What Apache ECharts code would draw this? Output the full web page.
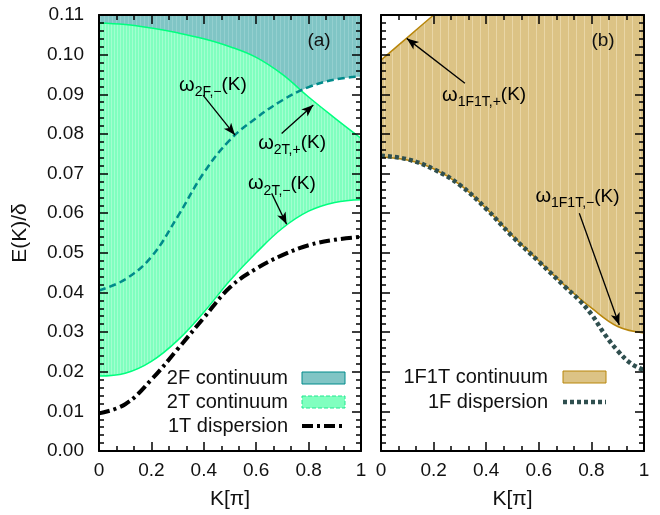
<!DOCTYPE html>
<html><head><meta charset="utf-8">
<script src="https://cdn.jsdelivr.net/npm/echarts@6/dist/echarts.min.js"></script>
<style>html,body{margin:0;padding:0;background:#fff}#c{width:660px;height:515px}</style>
</head><body><div id="c"></div>
<script>
// ---------- data ----------
const kGrid = [0, 0.1, 0.2, 0.3, 0.4, 0.5, 0.6, 0.7, 0.8, 0.9, 1.0];
// panel (a)
const w2TPlus  = [0.1080, 0.1076, 0.1067, 0.1055, 0.1040, 0.1020, 0.0993, 0.0950, 0.0893, 0.0840, 0.0789];
const w2TMinus = [0.0189, 0.0196, 0.0226, 0.0279, 0.0350, 0.0430, 0.0500, 0.0562, 0.0605, 0.0627, 0.0634];
const w2FMinus = [0.0405, 0.0433, 0.0490, 0.0591, 0.0702, 0.0785, 0.0840, 0.0885, 0.0918, 0.0937, 0.0945];
const disp1T   = [0.0095, 0.0118, 0.0180, 0.0257, 0.0336, 0.0413, 0.0460, 0.0494, 0.0519, 0.0533, 0.0540];
// panel (b)
const w1F1TPlus  = [0.0986, 0.1043, 0.1100, 0.1157, 0.1214, 0.1250, 0.1260, 0.1260, 0.1260, 0.1260, 0.1260];
const w1F1TMinus = [0.0742, 0.0734, 0.0712, 0.0672, 0.0612, 0.0543, 0.0480, 0.0417, 0.0361, 0.0314, 0.0298];
const k1F    = [0, 0.1, 0.2, 0.3, 0.4, 0.5, 0.6, 0.7, 0.75, 0.8, 0.85, 0.9, 0.95, 1.0];
const disp1F = [0.0745, 0.0736, 0.0711, 0.0671, 0.0611, 0.0541, 0.0478, 0.0414, 0.0383, 0.0345, 0.0295, 0.0253, 0.0221, 0.0204];
// axis ticks
const xTicks = { min: 0, max: 1, step: 0.2 };
const yTicks = { min: 0, max: 0.11, step: 0.01 };
// legend texts
const legendA = ['2F continuum', '2T continuum', '1T dispersion'];
const legendB = ['1F1T continuum', '1F dispersion'];

// ---------- styling ----------
const FONT = 'Liberation Sans';
const C = {
  tealLine: '#008b8b', tealFill: '#80c5c5', tealStripe: '#94cfcf',
  greenLine: '#00ff7f', greenFill: '#80ffbf', greenStripe: '#a2ffd0',
  goldLine: '#b8860b', goldFill: '#dcc385', goldStripe: '#e9d6a6',
  slate: '#2f4f4f', black: '#000'
};
function stripes(base, light, period) {
  const cv = document.createElement('canvas');
  cv.width = period; cv.height = 4;
  const g = cv.getContext('2d');
  g.fillStyle = base; g.fillRect(0, 0, period, 4);
  g.fillStyle = light; g.fillRect(0, 0, 1, 4);
  return { image: cv, repeat: 'repeat' };
}
const pair = (xs, ys) => xs.map((x, i) => [x, ys[i]]);

const chart = echarts.init(document.getElementById('c'), null, { renderer: 'canvas' });

const G = [
  { left: 99, top: 15, width: 262, height: 436 },
  { left: 381, top: 15, width: 263, height: 436 }
];

function xAx(gi, pos, labels) {
  return {
    type: 'value', gridIndex: gi, position: pos, min: xTicks.min, max: xTicks.max, interval: xTicks.step, z: 10,
    name: labels ? 'K[π]' : '', nameLocation: 'middle', nameGap: 38,
    nameTextStyle: { fontFamily: FONT, fontSize: 21, color: '#111' },
    axisLine: { show: true, onZero: false, lineStyle: { color: C.black, width: 2 } },
    axisTick: { show: true, inside: true, length: 9, lineStyle: { color: C.black, width: 1.5 } },
    minorTick: { show: true, splitNumber: 3, length: 5, lineStyle: { color: C.black, width: 1.5 } },
    splitLine: { show: false }, minorSplitLine: { show: false },
    axisLabel: {
      show: labels, fontFamily: FONT, fontSize: 19, color: '#111', margin: 10,
      formatter: v => { const r = Math.round(v * 10) / 10; return (r === 0 || r === 1) ? String(r) : r.toFixed(1); }
    }
  };
}
function yAx(gi, pos, labels) {
  return {
    type: 'value', gridIndex: gi, position: pos, min: yTicks.min, max: yTicks.max, interval: yTicks.step, z: 10,
    name: labels ? 'E(K)/δ' : '', nameLocation: 'middle', nameGap: 68,
    nameTextStyle: { fontFamily: FONT, fontSize: 21, color: '#111' },
    axisLine: { show: true, onZero: false, lineStyle: { color: C.black, width: 2 } },
    axisTick: { show: true, inside: true, length: 9, lineStyle: { color: C.black, width: 1.5 } },
    minorTick: { show: true, splitNumber: 5, length: 5, lineStyle: { color: C.black, width: 1.5 } },
    splitLine: { show: false }, minorSplitLine: { show: false },
    axisLabel: { show: labels, fontFamily: FONT, fontSize: 19, color: '#111', margin: 15, formatter: v => v.toFixed(2) }
  };
}

const base = { type: 'line', showSymbol: false, symbol: 'none', smooth: 0.4, animation: false, silent: true, clip: true };
function S(gi, xs, ys, extra) {
  return Object.assign({}, base, { xAxisIndex: gi * 2, yAxisIndex: gi * 2, data: pair(xs, ys) }, extra);
}
const noLine = { width: 0, opacity: 0 };
function arrowLines(list) {
  return {
    silent: true, animation: false, symbol: ['none', 'arrow'], symbolSize: [7, 12],
    label: { show: false }, lineStyle: { color: '#000', width: 1.3, type: 'solid' },
    emphasis: { disabled: true },
    data: list.map(a => [{ coord: a[0] }, { coord: a[1] }])
  };
}
// arrows: [from, to] in data coordinates
const arrowsA = [
  [[0.397, 0.0898], [0.519, 0.0797]],
  [[0.697, 0.0801], [0.818, 0.0873]],
  [[0.659, 0.0650], [0.716, 0.0572]]
];
const arrowsB = [
  [[0.319, 0.0928], [0.098, 0.1041]],
  [[0.754, 0.0600], [0.906, 0.0318]]
];

const series = [
  // panel (a): 2F continuum = everything above its lower edge
  S(0, kGrid, w2FMinus, { lineStyle: noLine, areaStyle: { origin: 'end', color: stripes(C.tealFill, C.tealStripe, 4), opacity: 1 } }),
  // 2T continuum: fill below upper edge, then clear below lower edge
  S(0, kGrid, w2TPlus, { lineStyle: noLine, areaStyle: { origin: 'start', color: stripes(C.greenFill, C.greenStripe, 3), opacity: 1 } }),
  S(0, kGrid, w2TMinus, { lineStyle: noLine, areaStyle: { origin: 'start', color: '#fff', opacity: 1 } }),
  S(0, kGrid, w2TPlus, { lineStyle: { color: C.greenLine, width: 1.5 } }),
  S(0, kGrid, w2TMinus, { lineStyle: { color: C.greenLine, width: 1.5 } }),
  S(0, kGrid, w2FMinus, { lineStyle: { color: C.tealLine, width: 2.5, type: [7, 4], cap: 'butt' } }),
  S(0, kGrid, disp1T, { lineStyle: { color: C.black, width: 4, type: [11, 4, 3, 4], cap: 'butt' }, markLine: arrowLines(arrowsA) }),
  // panel (b): 1F1T continuum = above lower edge, cleared above upper edge
  S(1, kGrid, w1F1TMinus, { lineStyle: noLine, areaStyle: { origin: 'end', color: stripes(C.goldFill, C.goldStripe, 8), opacity: 1 } }),
  S(1, kGrid, w1F1TPlus, { lineStyle: noLine, areaStyle: { origin: 'end', color: '#fff', opacity: 1 } }),
  S(1, kGrid, w1F1TPlus, { lineStyle: { color: C.goldLine, width: 1.5 } }),
  S(1, kGrid, w1F1TMinus, { lineStyle: { color: C.goldLine, width: 1.5 } }),
  S(1, k1F, disp1F, { lineStyle: { color: C.slate, width: 4.5, type: [4, 3], cap: 'butt' }, markLine: arrowLines(arrowsB) })
];

chart.setOption({
  backgroundColor: '#fff',
  animation: false,
  grid: G,
  xAxis: [xAx(0, 'bottom', true), xAx(0, 'top', false), xAx(1, 'bottom', true), xAx(1, 'top', false)],
  yAxis: [yAx(0, 'left', true), yAx(0, 'right', false), yAx(1, 'left', false), yAx(1, 'right', false)],
  series: series
});

// ---------- annotations and legends ----------
const rich = {
  w: { fontFamily: FONT, fontSize: 20, color: '#111' },
  s: { fontFamily: FONT, fontSize: 14, color: '#111', padding: [14, 0, 0, 0] },
  n: { fontFamily: FONT, fontSize: 19, color: '#111' }
};
function px(gi, pt) { return chart.convertToPixel({ gridIndex: gi }, pt); }
function omega(gi, at, sub) {
  const p = px(gi, at);
  return { type: 'text', x: p[0], y: p[1], z: 100, silent: true,
    style: { text: '{w|ω}{s|' + sub + '}{n|(K)}', rich: rich, align: 'center', verticalAlign: 'middle' } };
}
const labelsAt = [
  [0, [0.435, 0.0923], '2F,−'],
  [0, [0.737, 0.0777], '2T,+'],
  [0, [0.698, 0.0674], '2T,−'],
  [1, [0.392, 0.0898], '1F1T,+'],
  [1, [0.747, 0.0642], '1F1T,−']
];
const gfx = labelsAt.map(l => omega(l[0], l[1], l[2]));
function plain(x, y, t, align, size) {
  return { type: 'text', x: x, y: y, z: 100, silent: true,
    style: { text: t, fontFamily: FONT, fontSize: size || 19, fill: '#111', align: align || 'center', verticalAlign: 'middle' } };
}
gfx.push(plain(G[0].left + 220, 41, '(a)'));
gfx.push(plain(G[1].left + 222, 41, '(b)'));

// legend (a)
const la = { tx: G[0].left + 189, sx: G[0].left + 203, sw: 43, y0: 378, dy: 24 };
gfx.push(plain(la.tx, la.y0, legendA[0], 'right', 20));
gfx.push({ type: 'rect', z: 100, silent: true, shape: { x: la.sx, y: la.y0 - 6, width: la.sw, height: 12 },
  style: { fill: C.tealFill, stroke: C.tealLine, lineWidth: 1 } });
gfx.push(plain(la.tx, la.y0 + la.dy, legendA[1], 'right', 20));
gfx.push({ type: 'rect', z: 100, silent: true, shape: { x: la.sx, y: la.y0 + la.dy - 6, width: la.sw, height: 12 },
  style: { fill: C.greenFill, stroke: '#20e890', lineWidth: 1, lineDash: [4, 2] } });
gfx.push(plain(la.tx, la.y0 + 2 * la.dy, legendA[2], 'right', 20));
gfx.push({ type: 'line', z: 100, silent: true, shape: { x1: la.sx, y1: la.y0 + 2 * la.dy, x2: la.sx + la.sw, y2: la.y0 + 2 * la.dy },
  style: { stroke: C.black, lineWidth: 4, lineDash: [11, 4, 3, 4], lineCap: 'butt' } });

// legend (b)
const lb = { tx: G[1].left + 167, sx: G[1].left + 182, sw: 43, y0: 377, dy: 25 };
gfx.push(plain(lb.tx, lb.y0, legendB[0], 'right', 20));
gfx.push({ type: 'rect', z: 100, silent: true, shape: { x: lb.sx, y: lb.y0 - 6, width: lb.sw, height: 12 },
  style: { fill: C.goldFill, stroke: C.goldLine, lineWidth: 1 } });
gfx.push(plain(lb.tx, lb.y0 + lb.dy, legendB[1], 'right', 20));
gfx.push({ type: 'line', z: 100, silent: true, shape: { x1: lb.sx, y1: lb.y0 + lb.dy, x2: lb.sx + lb.sw, y2: lb.y0 + lb.dy },
  style: { stroke: C.slate, lineWidth: 4.5, lineDash: [4, 3], lineCap: 'butt' } });

chart.setOption({ graphic: gfx });
</script>
</body></html>
